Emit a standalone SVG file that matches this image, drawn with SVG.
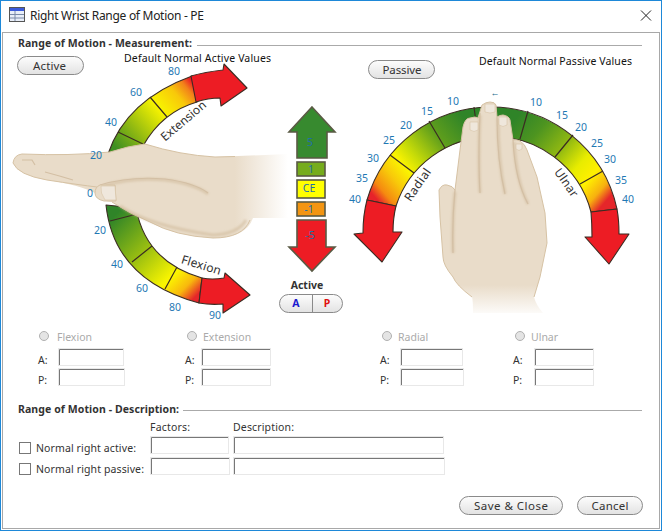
<svg xmlns="http://www.w3.org/2000/svg" width="662" height="531" viewBox="0 0 662 531">
<style>
text{font-family:"Noto Sans","Open Sans","Liberation Sans",sans-serif;font-size:11px;fill:#222}
.h{font-weight:700;font-size:10.5px;fill:#333}
.n{font-size:10.5px;fill:#1f78b4;text-anchor:middle}
.d{font-size:10.5px;fill:#111}
.c{font-size:11.5px;fill:#333;text-anchor:middle}
.g{fill:#aaa;font-size:10.5px}
.m{font-size:10.5px;fill:#1f6fa8;text-anchor:middle}
.l{font-size:10.5px;fill:#333}
.lab{font-size:12px;fill:#333;text-anchor:middle}
.btn{fill:url(#bg);stroke:#8a8a8a;stroke-width:1}
.in{fill:#fff;stroke:#e8e8e8;stroke-width:1}
.ins{fill:none;stroke:#777;stroke-width:1}
.seg{stroke:#3b2c22;stroke-width:1.1;stroke-linejoin:round}
.dv{stroke:#3b2c22;stroke-width:1.2;fill:none}
.red{fill:#ed1c24}
.box{stroke:#5a5a44;stroke-width:1.6}
.hand{stroke:#d6c2a4;stroke-width:1}
.cr{fill:none;stroke:#d3bfa4;stroke-width:1.2}
.sh{fill:none;stroke:#cdb795;stroke-opacity:.55;stroke-width:3;filter:url(#soft)}
.nail{fill:#efe7dc;stroke:#d6c2a4;stroke-width:.6}
.dash{stroke:#aaa;stroke-width:1}
.rad{fill:#e4e4e4;stroke:#b0b0b0;stroke-width:1}
</style>
<defs>
<filter id="soft" x="-20%" y="-20%" width="140%" height="140%"><feGaussianBlur stdDeviation="1.2"/></filter>
<linearGradient id="bg" x1="0" y1="0" x2="0" y2="1"><stop offset="0" stop-color="#fdfdfd"/><stop offset="1" stop-color="#e2e2e2"/></linearGradient>
<linearGradient id="gExt" gradientUnits="userSpaceOnUse" x1="118" y1="150" x2="195" y2="85"><stop offset="0" stop-color="#3f8f22"/><stop offset=".25" stop-color="#8fb812"/><stop offset=".58" stop-color="#f8f400"/><stop offset=".8" stop-color="#f8c80a"/><stop offset=".92" stop-color="#f2821a"/><stop offset="1" stop-color="#ed1c24"/></linearGradient>
<linearGradient id="gFlx" gradientUnits="userSpaceOnUse" x1="118" y1="212" x2="200" y2="292"><stop offset="0" stop-color="#2f8428"/><stop offset=".41" stop-color="#9cc010"/><stop offset=".73" stop-color="#fbf600"/><stop offset=".88" stop-color="#f8b80d"/><stop offset="1" stop-color="#e5262a"/></linearGradient>
<linearGradient id="gRad" gradientUnits="userSpaceOnUse" x1="470" y1="125" x2="375" y2="205"><stop offset="0" stop-color="#2f8428"/><stop offset=".255" stop-color="#5f9e1c"/><stop offset=".5" stop-color="#c8dc08"/><stop offset=".62" stop-color="#fbf400"/><stop offset=".75" stop-color="#f8c80a"/><stop offset=".88" stop-color="#f58a10"/><stop offset=".96" stop-color="#e7222a"/></linearGradient>
<linearGradient id="gUln" gradientUnits="userSpaceOnUse" x1="510" y1="125" x2="605" y2="208"><stop offset="0" stop-color="#2f8428"/><stop offset=".2" stop-color="#4d9420"/><stop offset=".43" stop-color="#8fb812"/><stop offset=".62" stop-color="#e8ec00"/><stop offset=".755" stop-color="#fff000"/><stop offset=".88" stop-color="#f7b00f"/><stop offset=".97" stop-color="#e5262a"/></linearGradient>
<linearGradient id="fadeR" gradientUnits="userSpaceOnUse" x1="235" y1="0" x2="288" y2="0"><stop offset="0" stop-color="#e9dcc9"/><stop offset="1" stop-color="#e9dcc9" stop-opacity="0"/></linearGradient>
<linearGradient id="fadeB" gradientUnits="userSpaceOnUse" x1="0" y1="285" x2="0" y2="317"><stop offset="0" stop-color="#e9dcc9"/><stop offset="1" stop-color="#e9dcc9" stop-opacity="0"/></linearGradient>
</defs>

<rect width="662" height="531" fill="#fff"/>
<g id="window">
<rect x=".5" y=".5" width="661" height="530" fill="none" stroke="#1e88d8" stroke-width="1"/>
<path d="M2.5 32.5H659.5M2.5 32V528M659.5 32V528M2 528.5H660" fill="none" stroke="#a8a8a8"/>
<g id="title-icon"><rect x="9.5" y="7.5" width="15" height="14" fill="#e8eef8" stroke="#555"/><rect x="10" y="8" width="14" height="3" fill="#3b5bdb"/><path d="M15 11V21M10 14.500H24M10 18H24" stroke="#7a8aa8"/></g>
<text x="30" y="20" style="font-size:12px;fill:#222" textLength="174">Right Wrist Range of Motion - PE</text>
<path id="close" d="M641 10.500L651 20.500M651 10.500L641 20.500" stroke="#222" stroke-width="1" fill="none"/>
</g>

<g id="heading-measure">
<text x="18" y="47" class="h" textLength="174">Range of Motion - Measurement:</text>
<line class="dash" x1="197" y1="45.500" x2="642" y2="45.500"/>
</g>

<g id="btn-active"><rect class="btn" x="17.500" y="56.500" width="66" height="18" rx="9"/><text x="49.500" y="70" class="c" textLength="33">Active</text></g>
<text x="124" y="62" class="d" textLength="147">Default Normal Active Values</text>
<g id="btn-passive"><rect class="btn" x="368.500" y="60.500" width="66" height="18" rx="9"/><text x="402" y="74" class="c" textLength="39">Passive</text></g>
<text x="479" y="65" class="d" textLength="153">Default Normal Passive Values</text>

<g id="extension-scale">
<path class="seg" fill="url(#gExt)" d="M108 154Q126 100 192 76L197 102Q162 112 143 146Z"/>
<path class="seg red" d="M191 76Q205 72 223 70L224 64L247 88L221 106L220 98Q208 98 196 102Z"/>
<path class="dv" d="M118 132L143 144M150 97L167 117"/>
</g>
<g id="flexion-scale">
<path class="seg" fill="url(#gFlx)" d="M106 205Q114 280 199 303L202 278Q146 262 136 208Z"/>
<path class="seg red" d="M199 303Q210 305 223 304L223 313L250 295L225 273L224 278Q212 280 202 278Z"/>
<path class="dv" d="M110 221L137 214M132 262L152 246M165 289L177 267"/>
</g>
<g id="radial-scale">
<path class="seg" fill="url(#gRad)" d="M367 200A129 129 0 0 1 490 107V137A100 100 0 0 0 396 206Z"/>
<path class="seg red" d="M367 200Q363 215 363 233L354 234L382 262L402 232L393 232Q393 218 396 206Z"/>
<path class="dv" d="M390 155L414 173M429 121L445 148M474 107L476 122"/>
</g>
<g id="ulnar-scale">
<path class="seg" fill="url(#gUln)" d="M490 107A129 129 0 0 1 617 209L591 212A100 100 0 0 0 490 137Z"/>
<path class="seg red" d="M617 209Q619 220 619 234L629 234L609 264L585 237L592 237Q592 224 591 212Z"/>
<path class="dv" d="M528 111L520 139M573 135L555 157M603 171L580 184"/>
</g>

<g id="hand-side">
<path fill="url(#fadeR)" d="M13 163Q14 155 22 154Q70 156 110 152Q128 146 145 144Q180 155 215 157L288 154V218H253Q246 238 213 238Q175 236 150 222Q130 214 112 202Q96 200 95 193Q80 185 47 180Q18 175 13 163Z"/>
<path class="hand" fill="none" d="M235 156.500L215 157Q180 155 145 144Q128 146 110 152Q70 156 22 154Q14 155 13 163Q18 175 47 180Q80 185 97 187"/>
<path class="hand" fill="none" d="M112 202Q130 214 150 222Q175 236 213 238Q243 238 250 220"/>
<path class="sh" d="M104 186Q130 177 165 180Q195 184 208 194"/>
<path class="sh" d="M120 206Q150 226 213 235Q238 234 246 220"/>
<path class="cr" d="M100 185Q130 176 165 179Q195 183 208 193"/>
<path class="cr" d="M22 160H32L35 165M45 172Q60 176 73 180"/>
<path fill="#e9dcc9" class="hand" d="M100 185H115L116 201H104Q95 199 95 193Q95 187 100 185Z"/>
<path class="nail" d="M101 186H115L116 200H105Q100 193 101 186Z"/>
</g>

<g id="hand-front">
<path fill="url(#fadeB)" d="M473 313Q473 300 472 297Q456 285 453 277Q443 265 443 257L440 217L439 190Q442 184 447 185Q453 186 455 190L460 150L463 127Q465 118 470 118Q476 116 478 118L482 105Q486 102 490 102Q495 102 496 105L497 117Q500 115 503 115Q509 116 510 120L513 140Q516 139 520 141Q525 144 527 150L537 177L545 213L547 243L540 277L534 297Q536 305 543 313Z"/>
<path class="hand" fill="none" d="M472 297Q456 285 453 277Q443 265 443 257L440 217L439 190Q442 184 447 185Q453 186 455 190L460 150L463 127Q465 118 470 118Q476 116 478 118L482 105Q486 102 490 102Q495 102 496 105L497 117Q500 115 503 115Q509 116 510 120L513 140Q516 139 520 141Q525 144 527 150L537 177L545 213L547 243L540 277L534 297"/>
<path class="sh" d="M480 115Q478 160 480 193M498 118Q498 160 505 194M514 142Q516 180 528 204M455 192Q452 220 453 253"/>
<path class="cr" d="M480 113Q478 160 480 193M497 117Q497 160 505 194M513 140Q515 180 528 204M455 190Q452 220 453 253"/>
<path class="nail" d="M485 104H495V112Q490 114 485 112Z"/>
<path class="nail" d="M470 122H478V130Q474 133 470 130Z"/>
<path class="nail" d="M499 117H507V125Q503 128 499 125Z"/>
<path class="nail" d="M516 144H522V149Q519 152 516 149Z"/>
</g>

<g id="scale-labels">
<text class="lab" transform="translate(186 124) rotate(-40)" textLength="55">Extension</text>
<text class="lab" transform="translate(200 269) rotate(17)" textLength="41">Flexion</text>
<text class="lab" transform="translate(421 187) rotate(-55)" textLength="37">Radial</text>
<text class="lab" transform="translate(563 185) rotate(55)" textLength="32">Ulnar</text>
</g>

<g id="angle-values">
<text class="n" x="174" y="75">80</text><text class="n" x="136" y="96">60</text><text class="n" x="111" y="126">40</text><text class="n" x="96" y="159">20</text><text class="n" x="90" y="197">0</text><text class="n" x="100" y="234">20</text><text class="n" x="117" y="268">40</text><text class="n" x="142" y="292">60</text><text class="n" x="175" y="311">80</text><text class="n" x="215" y="319">90</text>
<text class="n" x="453" y="105">10</text><text class="n" x="427" y="115">15</text><text class="n" x="406" y="129">20</text><text class="n" x="389" y="144">25</text><text class="n" x="373" y="162">30</text><text class="n" x="362" y="182">35</text><text class="n" x="355" y="203">40</text>
<text class="n" x="536" y="106">10</text><text class="n" x="562" y="119">15</text><text class="n" x="581" y="131">20</text><text class="n" x="597" y="147">25</text><text class="n" x="610" y="163">30</text><text class="n" x="621" y="184">35</text><text class="n" x="628" y="203">40</text>
<text x="495" y="96" style="font-size:9px;fill:#1a6a8a;text-anchor:middle">←</text>
</g>

<g id="grade-scale">
<path class="box" fill="#378a2f" d="M312 107L335 132H327V158H297V132H289Z"/>
<text class="m" x="310" y="146">5</text>
<rect class="box" x="297" y="162" width="28" height="14" fill="#76ac1c"/><text class="m" x="311" y="173">1</text>
<rect class="box" x="297" y="180" width="28" height="18" fill="#ffff00"/><text class="m" x="309" y="192">CE</text>
<rect class="box" x="297" y="202" width="28" height="14" fill="#f39512"/><text class="m" x="309" y="213">-1</text>
<path class="box red" d="M297 220H326V247H335L312 271L289 247H297Z"/>
<text class="m" x="310" y="239">-5</text>
</g>

<g id="active-toggle">
<text x="307" y="289" style="font-size:10.5px;font-weight:700;fill:#333;text-anchor:middle">Active</text>
<rect class="btn" x="279.500" y="294.500" width="63" height="18" rx="9"/>
<line x1="312.500" y1="295" x2="312.500" y2="312" stroke="#8a8a8a"/>
<text x="296" y="307" style="font-size:10.5px;font-weight:700;fill:#1a1ad0;text-anchor:middle">A</text>
<text x="327" y="307" style="font-size:10.5px;font-weight:700;fill:#e01010;text-anchor:middle">P</text>
</g>

<g id="flexion-field">
<circle class="rad" cx="44" cy="336" r="4.500"/><text x="57" y="341" class="g">Flexion</text>
<text x="38" y="364" class="l">A:</text><text x="38" y="384" class="l">P:</text>
<rect class="in" x="58.500" y="348.500" width="65" height="17"/><path class="ins" d="M59.500 365V349.500H123"/>
<rect class="in" x="58.500" y="368.500" width="66" height="17"/><path class="ins" d="M59.500 385V369.500H124"/>
</g>
<g id="extension-field">
<circle class="rad" cx="192" cy="336" r="4.500"/><text x="203" y="341" class="g">Extension</text>
<text x="185" y="364" class="l">A:</text><text x="185" y="384" class="l">P:</text>
<rect class="in" x="201.500" y="348.500" width="69" height="17"/><path class="ins" d="M202.500 365V349.500H270"/>
<rect class="in" x="201.500" y="368.500" width="69" height="17"/><path class="ins" d="M202.500 385V369.500H270"/>
</g>
<g id="radial-field">
<circle class="rad" cx="387" cy="336" r="4.500"/><text x="398" y="341" class="g">Radial</text>
<text x="380" y="364" class="l">A:</text><text x="380" y="384" class="l">P:</text>
<rect class="in" x="400.500" y="348.500" width="62" height="17"/><path class="ins" d="M401.500 365V349.500H462"/>
<rect class="in" x="400.500" y="368.500" width="63" height="17"/><path class="ins" d="M401.500 385V369.500H463"/>
</g>
<g id="ulnar-field">
<circle class="rad" cx="520" cy="336" r="4.500"/><text x="531" y="341" class="g">Ulnar</text>
<text x="513" y="364" class="l">A:</text><text x="513" y="384" class="l">P:</text>
<rect class="in" x="534.500" y="348.500" width="59" height="17"/><path class="ins" d="M535.500 365V349.500H593"/>
<rect class="in" x="534.500" y="368.500" width="59" height="17"/><path class="ins" d="M535.500 385V369.500H593"/>
</g>

<g id="heading-description">
<text x="18" y="413" class="h" textLength="161">Range of Motion - Description:</text>
<line class="dash" x1="183" y1="410.500" x2="642" y2="410.500"/>
<text x="150" y="431" class="l" textLength="40">Factors:</text>
<text x="233" y="431" class="l" textLength="61">Description:</text>
</g>
<g id="normal-active">
<rect x="19.500" y="442.500" width="11" height="11" fill="#fff" stroke="#777"/>
<text x="36" y="452" class="l" textLength="100">Normal right active:</text>
<rect class="in" x="150.500" y="436.500" width="78" height="17"/><path class="ins" d="M151.500 453V437.500H228"/>
<rect class="in" x="233.500" y="436.500" width="210" height="17"/><path class="ins" d="M234.500 453V437.500H443"/>
</g>
<g id="normal-passive">
<rect x="19.500" y="463.500" width="11" height="11" fill="#fff" stroke="#777"/>
<text x="36" y="473" class="l" textLength="108">Normal right passive:</text>
<rect class="in" x="150.500" y="457.500" width="79" height="17"/><path class="ins" d="M151.500 474V458.500H229"/>
<rect class="in" x="233.500" y="457.500" width="211" height="17"/><path class="ins" d="M234.500 474V458.500H444"/>
</g>

<g id="btn-save"><rect class="btn" x="459.500" y="496.500" width="103" height="18" rx="9"/><text x="511" y="510" class="c" textLength="74">Save &amp; Close</text></g>
<g id="btn-cancel"><rect class="btn" x="577.500" y="496.500" width="65" height="18" rx="9"/><text x="610" y="510" class="c" textLength="37">Cancel</text></g>
</svg>
